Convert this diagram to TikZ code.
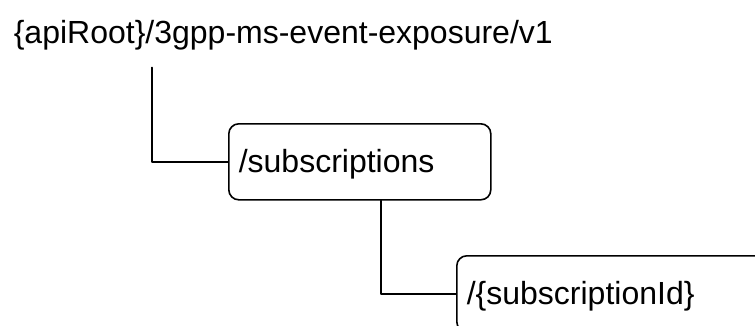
\documentclass[tikz,border=0pt]{standalone}
\usepackage{fontspec}
\setmainfont{Liberation Sans}
\begin{document}
\begin{tikzpicture}[x=1pt, y=-1pt, font=\fontsize{32}{38}\selectfont, line join=round, line cap=round, line width=1.6pt,
	resbox/.style={draw, rounded corners=10pt, anchor=north west, minimum height=76pt, inner xsep=10pt, inner ysep=0pt, text height=29pt, text depth=7pt, align=left}]
	\useasboundingbox (0,0) rectangle (755,325);
	\clip (0,0) rectangle (755,325);
	\node[anchor=base west, inner sep=0pt] (root) at (13,43) {\{apiRoot\}/3gpp-ms-event-exposure/v1};
	\node[resbox, text width=242pt] (subs) at (228,123) {/subscriptions};
	\node[resbox, text width=300pt] (subid) at (456,255) {/\{subscriptionId\}};
	\draw ([xshift=139pt,yshift=-17pt]root.south west) |- (subs.west);
	\draw ([xshift=153pt]subs.south west) |- (subid.west);
\end{tikzpicture}
\end{document}
